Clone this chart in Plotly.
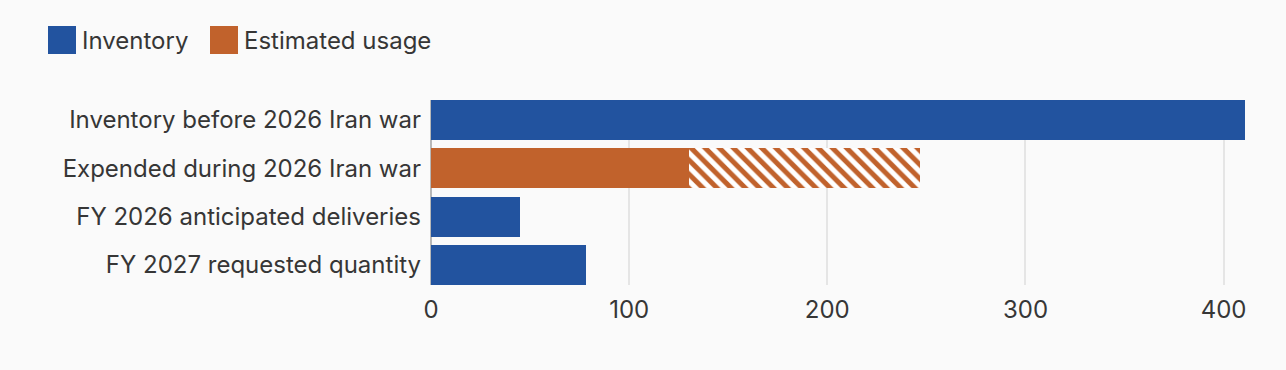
import plotly.graph_objects as go

categories = ["Inventory before 2026 Iran war", "Expended during 2026 Iran war",
              "FY 2026 anticipated deliveries", "FY 2027 requested quantity"]
inventory = [411, None, 44.8, 78]
usage_low = [None, 130, None, None]
usage_extra = [None, 117, None, None]
x_ticks = [0, 100, 200, 300, 400]
legend_labels = ["Inventory", "Estimated usage"]

BLUE = "#22539f"
ORANGE = "#c1622c"
BG = "#fafafa"
TXT = "#363636"
FONT = "Inter, Noto Sans, sans-serif"
FS = 24

fig = go.Figure()
fig.add_trace(go.Bar(y=categories, x=inventory, orientation="h", marker_color=BLUE,
                     marker_line_width=0, name=legend_labels[0], showlegend=False))
fig.add_trace(go.Bar(y=categories, x=usage_low, orientation="h", marker_color=ORANGE,
                     marker_line_width=0, name=legend_labels[1], showlegend=False))
fig.add_trace(go.Bar(y=categories, x=usage_extra, orientation="h",
                     marker=dict(color="white", line_width=0,
                                 pattern=dict(shape="\\", fgcolor=ORANGE, bgcolor="white",
                                              fgopacity=1, size=10, solidity=0.5,
                                              fillmode="replace")),
                     name=legend_labels[1] + " (range)", showlegend=False))

w = 0.8276
fig.update_layout(
    barmode="stack", bargap=1 - w,
    width=1286, height=370,
    margin=dict(l=431, r=40, t=100, b=85),
    paper_bgcolor=BG, plot_bgcolor=BG,
    font=dict(family=FONT, size=FS, color=TXT),
    xaxis=dict(range=[0, 411.3], tickvals=x_ticks, showgrid=True, gridcolor="#e5e5e5",
               gridwidth=1.5, zeroline=True, zerolinecolor="#b8b8b8", zerolinewidth=2,
               ticks="", ticklabelstandoff=8, tickfont=dict(size=FS, color=TXT), fixedrange=True),
    yaxis=dict(categoryorder="array", categoryarray=categories, autorange=False,
               range=[len(categories) - 1 + w / 2, -w / 2], ticks="", ticklabelstandoff=9,
               tickfont=dict(size=FS, color=TXT), showgrid=False),
)

# custom legend (large swatches)
legend_items = [(legend_labels[0], BLUE, 48), (legend_labels[1], ORANGE, 210)]
H = 370 - 100 - 85
W = 1286 - 431 - 40
for label, color, px in legend_items:
    x0 = (px - 431) / W
    x1 = (px + 28 - 431) / W
    y0 = (370 - 85 - 54) / H
    y1 = (370 - 85 - 26) / H
    fig.add_shape(type="rect", xref="paper", yref="paper", x0=x0, x1=x1, y0=y0, y1=y1,
                  fillcolor=color, line_width=0)
    fig.add_annotation(xref="paper", yref="paper", x=(px + 32 - 431) / W, y=(y0 + y1) / 2,
                       text=label, showarrow=False, xanchor="left", yanchor="middle",
                       font=dict(family=FONT, size=FS, color=TXT))

fig.write_html("out.html", config={"displayModeBar": False},
               post_script="document.body.style.margin='0';document.body.style.background='#fafafa';")
